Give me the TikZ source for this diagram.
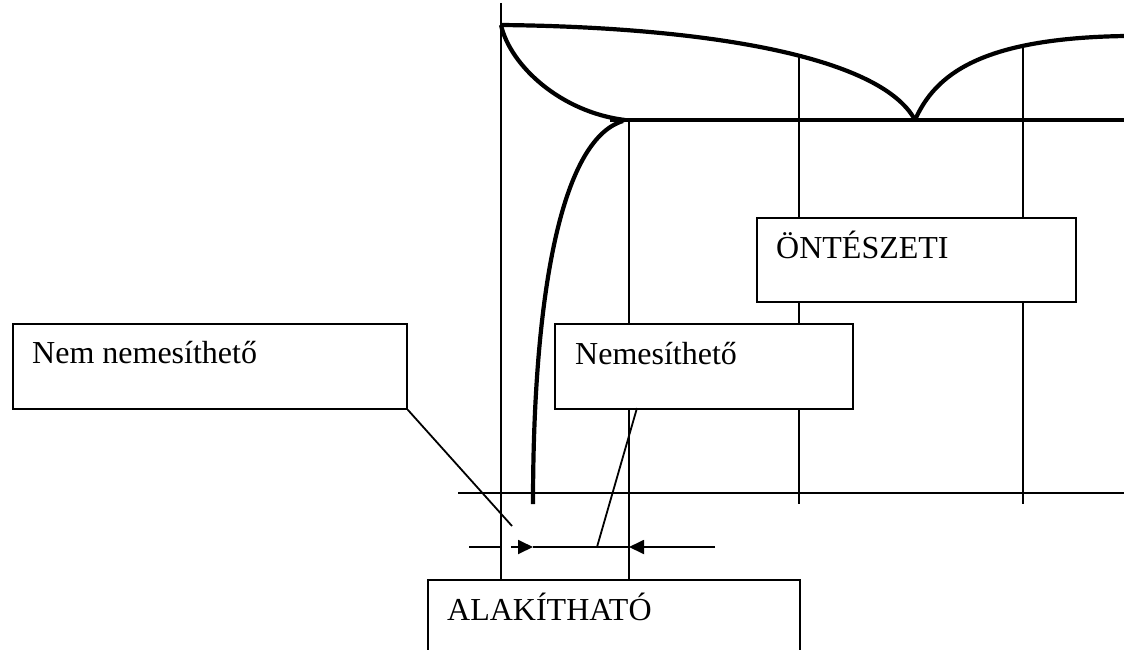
\documentclass[tikz,border=0pt]{standalone}
\usepackage{fontspec}
\setmainfont{Liberation Serif}
\usetikzlibrary{arrows.meta}
\begin{document}
\begin{tikzpicture}[x=1pt,y=-1pt,
  thinline/.style={line width=1.8pt},
  thickcurve/.style={line width=4.2pt},
  box/.style={draw, line width=1.8pt, fill=white, rectangle, inner sep=0pt, anchor=north west},
  lbl/.style={anchor=base west, inner sep=0pt, font=\fontsize{32}{38}\selectfont},
  dimarrow/.style={line width=1.8pt, -{Triangle[length=15pt,width=14pt]}}]
\useasboundingbox (0,0) rectangle (1124,650);
\clip (0,0) rectangle (1124,650);

% grid lines
\coordinate (a1) at (501,3);   \coordinate (a2) at (501,650);
\coordinate (b1) at (629,121); \coordinate (b2) at (629,579);
\coordinate (c1) at (799,57);  \coordinate (c2) at (799,504);
\coordinate (d1) at (1023,47); \coordinate (d2) at (1023,504);
\coordinate (h1) at (458,493); \coordinate (h2) at (1124,493);
\draw[thinline] (a1) -- (a2);
\draw[thinline] (b1) -- (b2);
\draw[thinline] (c1) -- (c2);
\draw[thinline] (d1) -- (d2);
\draw[thinline] (h1) -- (h2);

% thick curves
\coordinate (p0) at (501,25);
\coordinate (cusp) at (915,120);
\coordinate (pr) at (1126,36);
\coordinate (knee) at (625,120);
\coordinate (hl) at (610,120);
\coordinate (hr) at (1126,120);
\coordinate (q0) at (533,504);
\coordinate (q1) at (623,121);
\draw[thickcurve] (p0) .. controls (700,27) and (880,55) .. (cusp);
\draw[thickcurve] (cusp) .. controls (935,75) and (980,38) .. (pr);
\draw[thickcurve] (p0) .. controls (510,65) and (560,112) .. (knee);
\draw[thickcurve] (hl) -- (hr);
\draw[thickcurve] (q0) .. controls (533,300) and (560,140) .. (q1);

% dimension line
\coordinate (e1) at (469,547); \coordinate (e2) at (501,547);
\coordinate (f1) at (511,547); \coordinate (f2) at (533,547);
\coordinate (g2) at (629,547); \coordinate (g1) at (715,547);
\draw[thinline] (e1) -- (e2);
\draw[dimarrow] (f1) -- (f2);
\draw[thinline] (f2) -- (g2);
\draw[dimarrow] (g1) -- (g2);

% boxes
\node[box, minimum width=394pt, minimum height=85pt] (nn) at (12,323) {};
\node[lbl] (nnt) at (32,363) {Nem nemesíthető};
\node[box, minimum width=298pt, minimum height=85pt] (ne) at (554,323) {};
\node[lbl] (net) at (575,364) {Nemesíthető};
\node[box, minimum width=319pt, minimum height=84pt] (on) at (756,217) {};
\node[lbl] (ont) at (776,258) {ÖNTÉSZETI};
\node[box, minimum width=372pt, minimum height=90pt] (al) at (427,579) {};
\node[lbl] (alt) at (447,620) {ALAKÍTHATÓ};

% leader lines
\coordinate (l1) at (512,526);
\coordinate (m0) at (637,408);
\coordinate (m1) at (597,547);
\draw[thinline] (nn.south east) -- (l1);
\draw[thinline] (m0) -- (m1);
\end{tikzpicture}
\end{document}
